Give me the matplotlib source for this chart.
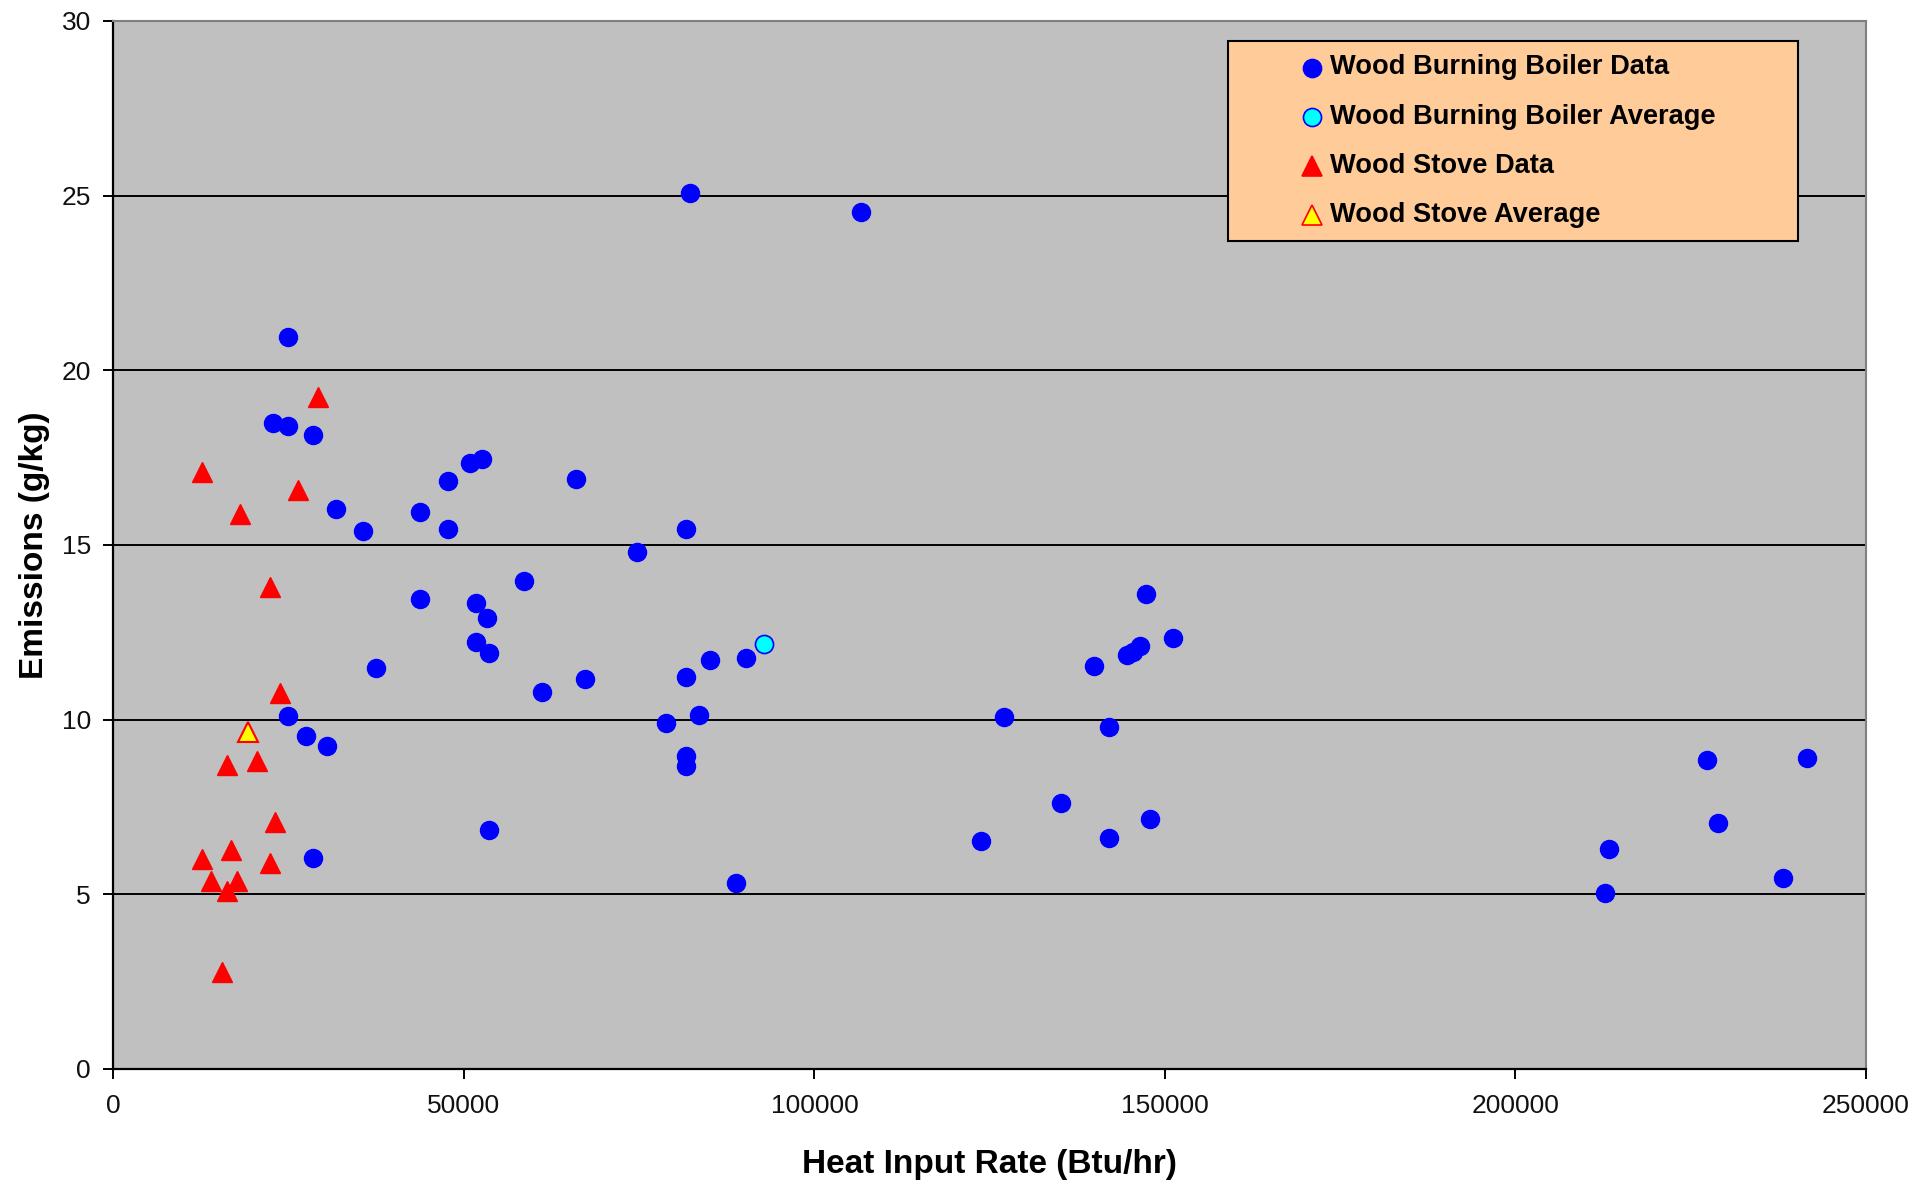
import matplotlib
matplotlib.use("Agg")
import matplotlib.pyplot as plt
from matplotlib.patches import Rectangle

plt.rcParams['font.family'] = ['Liberation Sans', 'DejaVu Sans']

# Wood burning boiler data (heat input Btu/hr, emissions g/kg)
boiler_x = [24870, 22730, 24870, 28520, 50870, 52530, 47770, 65940, 31710, 35660,
            43780, 47770, 58520, 43780, 51720, 53290, 51720, 53530, 37460, 61180,
            67220, 24870, 27480, 30430, 28520, 53530,
            82240, 106720, 74640, 81720, 81720, 85140, 90180, 78820, 83570, 81720,
            81720, 88840, 127010, 123830,
            147260, 151210, 139950, 144550, 145460, 146510, 142030, 135190, 142030, 147830,
            227310, 241520, 228870, 213380, 212810, 238100]
boiler_y = [20.95, 18.50, 18.41, 18.15, 17.36, 17.47, 16.82, 16.88, 16.03, 15.40,
            15.94, 15.45, 13.97, 13.45, 13.34, 12.92, 12.22, 11.91, 11.49, 10.80,
            11.17, 10.11, 9.54, 9.26, 6.04, 6.83,
            25.07, 24.54, 14.81, 15.46, 11.23, 11.70, 11.76, 9.91, 10.13, 8.96,
            8.67, 5.32, 10.07, 6.52,
            13.61, 12.33, 11.54, 11.84, 11.95, 12.11, 9.80, 7.62, 6.62, 7.15,
            8.85, 8.89, 7.04, 6.31, 5.04, 5.46]

boiler_avg_x = [92790]
boiler_avg_y = [12.18]

# Wood stove data
stove_x = [29150, 12600, 26290, 18110, 22350, 23710, 16260, 20490, 23110, 16830,
           12600, 22350, 13890, 17600, 16260, 15500]
stove_y = [19.23, 17.10, 16.58, 15.89, 13.79, 10.77, 8.70, 8.82, 7.06, 6.27,
           6.00, 5.91, 5.39, 5.39, 5.10, 2.79]

stove_avg_x = [19160]
stove_avg_y = [9.66]

series_labels = ["Wood Burning Boiler Data", "Wood Burning Boiler Average",
                 "Wood Stove Data", "Wood Stove Average"]
x_ticks = [0, 50000, 100000, 150000, 200000, 250000]
y_ticks = [0, 5, 10, 15, 20, 25, 30]

fig = plt.figure(figsize=(19.30, 11.81), dpi=100)
ax = fig.add_axes([113.3 / 1930, 1 - 1069 / 1181, 1752.7 / 1930, 1048 / 1181])
ax.set_facecolor('#C0C0C0')

ax.set_xlim(0, 250000)
ax.set_ylim(0, 30)
ax.set_xticks(x_ticks)
ax.set_xticklabels([str(v) for v in x_ticks])
ax.set_yticks(y_ticks)
ax.set_yticklabels([str(v) for v in y_ticks])

for v in y_ticks[1:-1]:
    ax.axhline(v, color='black', lw=1.4, zorder=1)

circ_style = dict(marker='o', markersize=13, linestyle='none')
tri_style = dict(marker='^', markersize=14.5, linestyle='none')

ax.plot(boiler_x, boiler_y, color='#0000FF', markerfacecolor='#0000FF',
        markeredgecolor='#0000FF', markeredgewidth=1, zorder=3, **circ_style)
ax.plot(boiler_avg_x, boiler_avg_y, markerfacecolor='#00FFFF',
        markeredgecolor='#0000FF', markeredgewidth=1.2, zorder=4, **circ_style)
ax.plot(stove_x, stove_y, markerfacecolor='#FF0000', markeredgecolor='#FF0000',
        markeredgewidth=1, zorder=5, **tri_style)
ax.plot(stove_avg_x, stove_avg_y, markerfacecolor='#FFFF00', markeredgecolor='#FF0000',
        markeredgewidth=1.5, zorder=6, **tri_style)

for side in ['left', 'bottom']:
    ax.spines[side].set_color('black')
    ax.spines[side].set_linewidth(1.6)
for side in ['top', 'right']:
    ax.spines[side].set_color('#808080')
    ax.spines[side].set_linewidth(1.5)

ax.tick_params(axis='both', direction='out', length=7.2, width=1.4, color='black',
               labelsize=19, labelcolor='#111111')
ax.tick_params(axis='y', pad=9)
ax.tick_params(axis='x', pad=11)

ax.set_xlabel("Heat Input Rate (Btu/hr)", fontsize=24, fontweight='bold', labelpad=22)
ax.set_ylabel("Emissions (g/kg)", fontsize=24, fontweight='bold', labelpad=8)

# Legend box (drawn in axes coordinates)
def ax_x(px):
    return (px - 113.3) / 1752.7

def ax_y(py):
    return (1069 - py) / 1048

x0, x1 = ax_x(1228), ax_x(1798)
y0, y1 = ax_y(241), ax_y(41)
ax.add_patch(Rectangle((x0, y0), x1 - x0, y1 - y0, transform=ax.transAxes,
                       facecolor='#FFCC99', edgecolor='black', lw=1.5, zorder=10,
                       clip_on=False))
rows = [67.5, 116.8, 166.0, 215.3]
handles = [
    dict(marker='o', markersize=13, markerfacecolor='#0000FF', markeredgecolor='#0000FF'),
    dict(marker='o', markersize=13, markerfacecolor='#00FFFF', markeredgecolor='#0000FF'),
    dict(marker='^', markersize=14.5, markerfacecolor='#FF0000', markeredgecolor='#FF0000'),
    dict(marker='^', markersize=14.5, markerfacecolor='#FFFF00', markeredgecolor='#FF0000'),
]
for ry, lab, h in zip(rows, series_labels, handles):
    ax.plot([ax_x(1312)], [ax_y(ry)], transform=ax.transAxes, linestyle='none',
            zorder=11, clip_on=False, markeredgewidth=1.2, **h)
    ax.text(ax_x(1330), ax_y(ry), lab, transform=ax.transAxes, fontsize=19.6,
            fontweight='bold', va='center', ha='left', zorder=12)

fig.savefig("out.png", dpi=100, facecolor='white')
